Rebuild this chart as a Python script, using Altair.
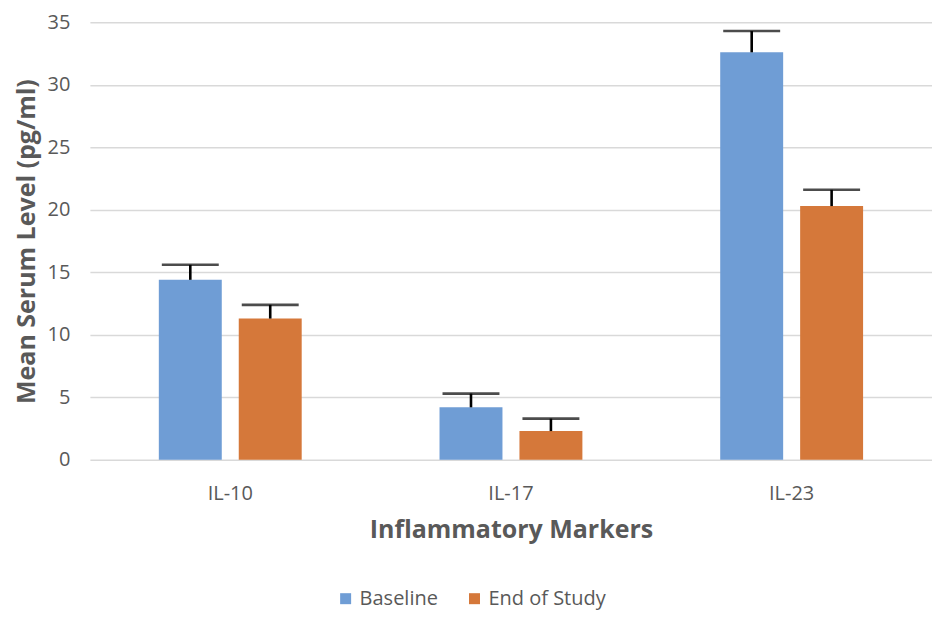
import altair as alt
import pandas as pd

markers = ["IL-10", "IL-17", "IL-23"]
groups = ["Baseline", "End of Study"]
baseline = [14.4, 4.2, 32.6]
baseline_upper = [15.6, 5.3, 34.3]
end_study = [11.3, 2.3, 20.3]
end_upper = [12.4, 3.3, 21.6]

rows = []
for i, m in enumerate(markers):
    rows.append({"marker": m, "group": groups[0], "value": baseline[i], "upper": baseline_upper[i]})
    rows.append({"marker": m, "group": groups[1], "value": end_study[i], "upper": end_upper[i]})
df = pd.DataFrame(rows)

font = "Open Sans"
grey = "#595959"

x = alt.X("marker:N", sort=markers,
          scale=alt.Scale(paddingInner=0.491, paddingOuter=0.2455),
          axis=alt.Axis(title="Inflammatory Markers", labelAngle=0, labelFontSize=20,
                        labelColor=grey, titleFontSize=25, titleFontWeight="bold",
                        titleColor=grey, labelPadding=24, titlePadding=14,
                        ticks=False, domain=False, labelFont=font, titleFont=font))
xo = alt.XOffset("group:N", sort=groups, scale=alt.Scale(paddingInner=0.2125, paddingOuter=0))
y_scale = alt.Scale(domain=[0, 35], nice=False)

bars = alt.Chart(df).mark_bar().encode(
    x=x,
    xOffset=xo,
    y=alt.Y("value:Q", scale=y_scale,
            axis=alt.Axis(title="Mean Serum Level (pg/ml)", values=[0, 5, 10, 15, 20, 25, 30, 35],
                          labelFontSize=20, labelColor=grey, titleFontSize=25,
                          titleFontWeight="bold", titleColor=grey, labelPadding=20,
                          titlePadding=8, ticks=False, domain=False, gridColor="#d9d9d9",
                          gridWidth=1.5, labelFont=font, titleFont=font)),
    color=alt.Color("group:N", sort=groups,
                    scale=alt.Scale(domain=groups, range=["#6f9dd5", "#d5783a"]),
                    legend=alt.Legend(title=None, orient="none", direction="horizontal",
                                      legendX=246, legendY=567, symbolType="square",
                                      symbolSize=121, labelFontSize=20, labelColor=grey,
                                      labelFont=font, columnPadding=26, symbolStrokeWidth=0)),
)

stems = alt.Chart(df).mark_rule(color="black", strokeWidth=2.6).encode(
    x=x, xOffset=xo, y=alt.Y("value:Q", scale=y_scale), y2="upper:Q"
)
caps = alt.Chart(df).mark_tick(color="black", size=57, thickness=2.6, orient="horizontal").encode(
    x=x, xOffset=xo, y=alt.Y("upper:Q", scale=y_scale)
)

chart = (bars + stems + caps).properties(
    width=843, height=438,
    autosize=alt.AutoSizeParams(type="none"),
    padding={"left": 82, "top": 14, "right": 0, "bottom": 152},
).configure_view(stroke=None)

chart.save("out.html", embed_options={"renderer": "svg", "actions": False})
